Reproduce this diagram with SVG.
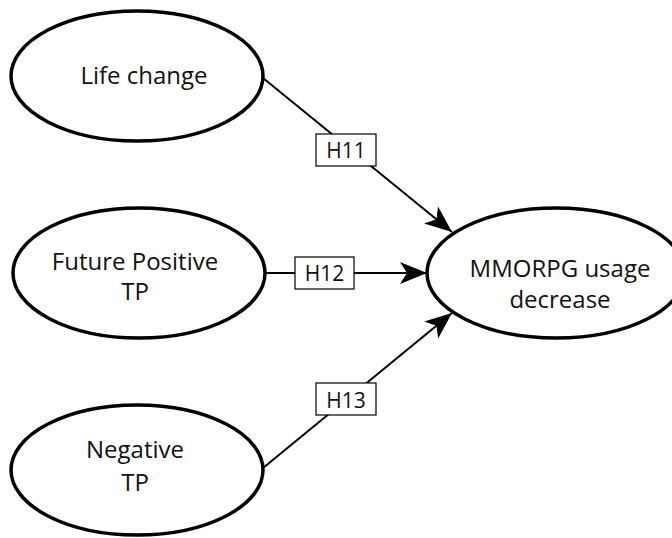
<svg xmlns="http://www.w3.org/2000/svg" width="672" height="538" viewBox="0 0 672 538">
  <style>
    .node ellipse { fill: #ffffff; stroke: #000000; stroke-width: 3.5; }
    .node text { font-family: "Open Sans", "Liberation Sans", sans-serif; font-size: 24px; fill: #111111; text-anchor: middle; }
    .edge { stroke: #000000; stroke-width: 2; fill: none; marker-end: url(#arrow); }
    .tag rect { fill: #ffffff; stroke: #000000; stroke-width: 1.2; }
    .tag text { font-family: "Open Sans", "Liberation Sans", sans-serif; font-size: 21px; fill: #111111; text-anchor: middle; }
  </style>
  <defs>
    <marker id="arrow" markerUnits="userSpaceOnUse" viewBox="0 0 27 22" refX="27" refY="11" markerWidth="27" markerHeight="22" orient="auto">
      <path d="M0,0 L27,11 L0,22 L7,11 Z" fill="#000000"/>
    </marker>
  </defs>
  <rect width="672" height="538" fill="#ffffff"/>

  <!-- connectors with hypothesis tags -->
  <g id="connectors">
    <path class="edge" d="M263,78 L452,232"/>
    <path class="edge" d="M265,273 L427,273"/>
    <path class="edge" d="M263,468 L452,313"/>
    <g class="tag" id="tag-h11">
      <rect x="316" y="134" width="60" height="32"/>
      <text x="346" y="158">H11</text>
    </g>
    <g class="tag" id="tag-h12">
      <rect x="295" y="257" width="59" height="32"/>
      <text x="324.5" y="281">H12</text>
    </g>
    <g class="tag" id="tag-h13">
      <rect x="316" y="383" width="60" height="32"/>
      <text x="346" y="408">H13</text>
    </g>
  </g>

  <g class="node" id="life-change">
    <ellipse cx="137" cy="76" rx="126" ry="65"/>
    <text x="144" y="84">Life change</text>
  </g>

  <g class="node" id="future-positive-tp">
    <ellipse cx="139" cy="273" rx="126" ry="65"/>
    <text x="135" y="270">Future Positive</text>
    <text x="135" y="300">TP</text>
  </g>

  <g class="node" id="negative-tp">
    <ellipse cx="137" cy="470" rx="126" ry="65"/>
    <text x="135" y="458">Negative</text>
    <text x="135" y="491">TP</text>
  </g>

  <g class="node" id="mmorpg-usage-decrease">
    <ellipse cx="556" cy="273" rx="129" ry="65"/>
    <text x="560" y="277">MMORPG usage</text>
    <text x="560" y="308">decrease</text>
  </g>
</svg>
